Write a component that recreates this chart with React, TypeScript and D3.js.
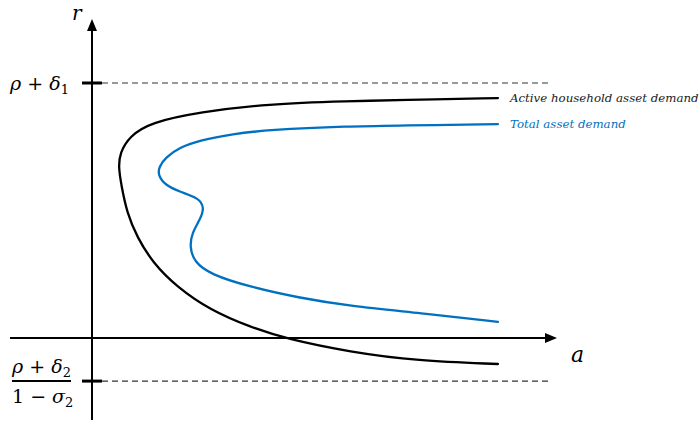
import React from "react";
import * as d3 from "d3";

// Conceptual curves in (a, r) space
const activeA = [8.73, 6.62, 5.55, 3.76, 2.32, 1.25, 0.8, 0.6, 0.57, 0.63, 0.753, 0.968, 1.312, 1.828, 2.538, 3.4, 4.19, 5.55, 6.99, 8.73];
const activeR = [0.941, 0.933, 0.929, 0.918, 0.886, 0.845, 0.79, 0.725, 0.67, 0.6, 0.49, 0.396, 0.294, 0.2, 0.11, 0.043, -0.004, -0.055, -0.09, -0.102];
const totalA = [8.73, 6.62, 5.55, 3.76, 3.03, 2.32, 1.89, 1.58, 1.44, 1.42, 1.57, 1.89, 2.3, 2.42, 2.32, 2.15, 2.1, 2.2, 2.54, 3.4, 4.47, 5.55, 7.05, 8.73];
const totalR = [0.839, 0.833, 0.831, 0.816, 0.8, 0.776, 0.748, 0.708, 0.671, 0.639, 0.6, 0.573, 0.549, 0.51, 0.463, 0.412, 0.357, 0.298, 0.25, 0.2, 0.157, 0.125, 0.098, 0.063];
const upperLevel = 1; // rho + delta_1
const lowerLevel = -0.169; // (rho + delta_2)/(1 - sigma_2)
const seriesLabels = ["Active household asset demand", "Total asset demand"];
const seriesColors = ["#000000", "#0070c0"];

const W = 699;
const H = 424;

export default function App() {
  const x = d3.scaleLinear().domain([0, 10]).range([92, 557]);
  const y = d3.scaleLinear().domain([0, 1]).range([338, 83]);
  const line = d3
    .line<[number, number]>()
    .x((d) => x(d[0]))
    .y((d) => y(d[1]))
    .curve(d3.curveBasis);
  const active: [number, number][] = activeA.map((a, i) => [a, activeR[i]]);
  const total: [number, number][] = totalA.map((a, i) => [a, totalR[i]]);
  const series = [active, total];
  const x0 = x(0);
  const y0 = y(0);
  const font = "'DejaVu Serif', serif";
  const xDashEnd = 548;
  return (
    <svg
      width={W}
      height={H}
      style={{ position: "absolute", left: 0, top: 0, background: "#fff" }}
    >
      {/* dashed levels */}
      <line x1={x0} x2={xDashEnd} y1={y(upperLevel)} y2={y(upperLevel)} stroke="#333" strokeWidth={1.2} strokeDasharray="6,4" />
      <line x1={x0} x2={xDashEnd} y1={y(lowerLevel)} y2={y(lowerLevel)} stroke="#333" strokeWidth={1.2} strokeDasharray="6,4" />
      {/* axes */}
      <line x1={x0} x2={x0} y1={420} y2={30} stroke="#000" strokeWidth={2} />
      <path d={`M${x0 - 5},${31} L${x0},${19} L${x0 + 5},${31} Z`} fill="#000" />
      <line x1={10} x2={546} y1={y0} y2={y0} stroke="#000" strokeWidth={2} />
      <path d={`M${545},${y0 - 5} L${557},${y0} L${545},${y0 + 5} Z`} fill="#000" />
      {/* ticks */}
      <line x1={x0 - 10} x2={x0 + 10} y1={y(upperLevel)} y2={y(upperLevel)} stroke="#000" strokeWidth={3} />
      <line x1={x0 - 10} x2={x0 + 10} y1={y(lowerLevel)} y2={y(lowerLevel)} stroke="#000" strokeWidth={3} />
      {/* curves */}
      {series.map((s, i) => (
        <path key={i} d={line(s) || ""} fill="none" stroke={seriesColors[i]} strokeWidth={2.3} strokeLinecap="round" />
      ))}
      {/* labels */}
      {series.map((s, i) => (
        <text
          key={"l" + i}
          x={x(s[0][0]) + 12}
          y={y(s[0][1]) + 4}
          fontFamily={font}
          fontStyle="italic"
          fontSize={11.8}
          fill={seriesColors[i] === "#000000" ? "#1a1a1a" : seriesColors[i]}
        >
          {seriesLabels[i]}
        </text>
      ))}
      <text x={72} y={20} fontFamily={font} fontStyle="italic" fontSize={20}>r</text>
      <text x={571} y={362} fontFamily={font} fontStyle="italic" fontSize={22}>a</text>
      <text x={10} y={y(upperLevel) + 7} fontFamily={font} fontSize={19}>
        <tspan fontStyle="italic">ρ</tspan>
        <tspan> + </tspan>
        <tspan fontStyle="italic">δ</tspan>
        <tspan fontSize={13} dy={4}>1</tspan>
      </text>
      <text x={12} y={y(lowerLevel) - 8} fontFamily={font} fontSize={19}>
        <tspan fontStyle="italic">ρ</tspan>
        <tspan> + </tspan>
        <tspan fontStyle="italic">δ</tspan>
        <tspan fontSize={13} dy={4}>2</tspan>
      </text>
      <line x1={12} x2={71} y1={y(lowerLevel)} y2={y(lowerLevel)} stroke="#000" strokeWidth={2} />
      <text x={12} y={y(lowerLevel) + 22} fontFamily={font} fontSize={19}>
        <tspan>1 − </tspan>
        <tspan fontStyle="italic">σ</tspan>
        <tspan fontSize={13} dy={4}>2</tspan>
      </text>
    </svg>
  );
}
